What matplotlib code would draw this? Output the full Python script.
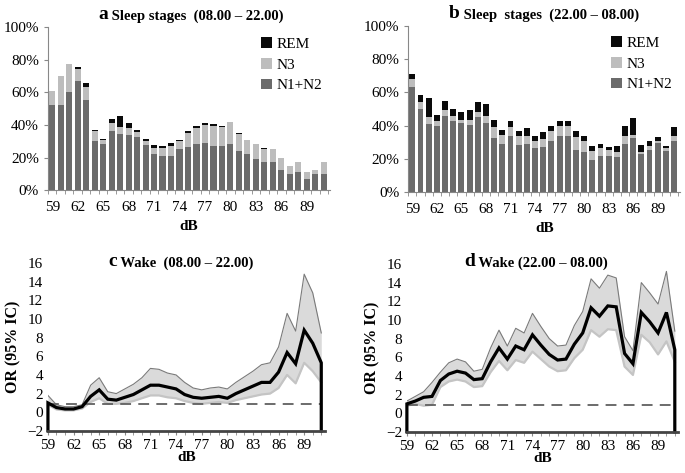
import numpy as np
import matplotlib
matplotlib.use('Agg')
import matplotlib.pyplot as plt
from matplotlib.ticker import FuncFormatter, MultipleLocator

plt.rcParams['font.family'] = ['Liberation Serif', 'DejaVu Serif']

# dB categories
db = np.arange(59, 92)

# a: sleep stages 08.00 - 22.00 (% of epochs)
a_n12 = [52, 52, 60, 67, 55, 30, 28, 36, 34.5, 34, 32.5, 27.5, 22, 21, 21, 25, 26.5,
         28, 29, 27, 27, 28, 24, 22, 19, 17, 17, 12.5, 10, 11, 7, 10, 10]
a_n3 = [9, 18, 17, 7, 8, 6, 3, 5, 4, 4, 3, 2.5, 4, 5, 6, 5, 8.5,
        10, 11, 12.5, 12, 13.5, 10.5, 9, 9, 8.5, 8, 7, 4.5, 6, 4, 2.5, 7]
a_rem = [0, 0, 0.5, 1.5, 2.5, 1, 0.5, 2.5, 7, 3, 1.5, 1.5, 1.5, 1, 2, 0.5, 1,
         1.5, 1, 1, 0.5, 0, 0.3, 0, 0.3, 0.3, 0.3, 0.3, 0, 0, 0, 0, 0.3]

# b: sleep stages 22.00 - 08.00
b_n12 = [63, 50, 41, 39.5, 45.5, 42.5, 41.5, 40.5, 45, 41.5, 32.5, 29, 33.5, 28.5, 29, 26.5, 27,
         30.5, 34, 34, 25.5, 24, 19.5, 22, 22, 21, 29, 32.5, 23, 25.5, 29.5, 25, 31]
b_n3 = [5, 4, 4, 3, 4, 3.5, 2, 3, 3.5, 4, 6.5, 5.5, 5.5, 5, 5, 4, 5,
        6.5, 5.5, 6, 7.5, 6.5, 5, 4.5, 3.5, 3, 5, 2, 1, 2, 1, 1.5, 3]
b_rem = [3, 4.5, 11.5, 4, 5.5, 4, 4.5, 6, 6, 7.5, 4.5, 3, 4, 3.5, 4.5, 3, 4,
         3, 3.5, 2.5, 3.5, 3, 3, 2.5, 1.5, 3.5, 6, 10, 4.5, 3, 2.5, 1.5, 5]

# c: wake OR 08.00 - 22.00
c_or = [1.0, 0.5, 0.35, 0.35, 0.6, 1.7, 2.4, 1.4, 1.3, 1.6, 1.9, 2.4, 2.9, 2.9, 2.7, 2.5, 1.9,
        1.6, 1.5, 1.6, 1.7, 1.5, 2.0, 2.4, 2.8, 3.2, 3.2, 4.3, 6.4, 5.2, 8.8, 7.4, 5.3]
c_hi = [1.8, 0.8, 0.6, 0.6, 0.8, 2.9, 3.7, 2.2, 2.0, 2.5, 3.0, 3.7, 4.7, 4.6, 4.2, 4.0, 3.2,
        2.6, 2.4, 2.6, 2.7, 2.5, 3.2, 3.8, 4.4, 5.1, 5.3, 7.0, 10.6, 8.7, 14.8, 12.8, 8.5]
c_lo = [0.8, 0.3, 0.2, 0.2, 0.4, 1.1, 1.5, 0.9, 0.9, 1.0, 1.2, 1.5, 1.8, 1.8, 1.6, 1.5, 1.2,
        1.0, 0.9, 1.0, 1.1, 1.0, 1.3, 1.5, 1.7, 1.9, 2.0, 2.6, 4.0, 3.1, 5.3, 4.4, 3.2]

# d: wake OR 22.00 - 08.00
d_or = [1.0, 1.3, 1.7, 1.8, 3.5, 4.2, 4.5, 4.3, 3.6, 3.7, 5.5, 7.0, 5.8, 7.2, 6.8, 8.4, 7.3,
        6.3, 5.7, 5.8, 7.4, 8.6, 11.3, 10.4, 11.5, 11.4, 6.4, 5.3, 10.8, 9.8, 8.6, 10.8, 6.8]
d_hi = [1.3, 1.8, 2.3, 3.3, 4.4, 5.4, 5.8, 5.5, 4.5, 4.7, 7.0, 8.9, 7.2, 9.1, 8.6, 10.7, 9.3,
        8.0, 7.2, 7.3, 9.4, 10.9, 14.4, 13.4, 14.8, 14.5, 8.2, 6.7, 14.0, 12.9, 11.7, 15.2, 8.8]
d_lo = [0.8, 1.0, 0.8, 0.9, 2.8, 3.4, 3.6, 3.4, 2.8, 2.9, 4.4, 5.6, 4.6, 5.7, 5.4, 6.6, 5.8,
        5.0, 4.5, 4.6, 5.9, 6.8, 8.9, 8.2, 9.0, 8.9, 5.0, 4.1, 8.4, 7.6, 6.3, 7.7, 5.5]

ref_line = 0.85
tick_db = np.arange(59, 92, 3)

fig = plt.figure(figsize=(6.85, 4.73), dpi=100)
ax_a = fig.add_axes([0.070, 0.598, 0.412, 0.345])
ax_b = fig.add_axes([0.596, 0.594, 0.397, 0.351])
ax_c = fig.add_axes([0.070, 0.089, 0.404, 0.355])
ax_d = fig.add_axes([0.594, 0.087, 0.396, 0.355])


def title(ax, letter, rest, x0, y):
    t = ax.text(x0, y, letter, transform=ax.transAxes, fontsize=14,
                fontweight='bold', va='baseline', ha='left')
    ax.annotate(rest, xy=(1, 0), xycoords=t, fontsize=10.5, fontweight='bold',
                va='bottom', ha='left')


def bars(ax, n12, n3, rem, letter, rest, x0):
    pos = np.arange(len(db))
    n12 = np.array(n12); n3 = np.array(n3); rem = np.array(rem)
    ax.bar(pos, n12, 0.72, color='#6b6b6b', label='N1+N2')
    ax.bar(pos, n3, 0.72, bottom=n12, color='#bdbdbd', label='N3')
    ax.bar(pos, rem, 0.72, bottom=n12 + n3, color='#0a0a0a', label='REM')
    ax.set_ylim(0, 100)
    ax.set_xlim(-0.45, 32.75)
    ax.set_yticks(np.arange(0, 101, 20))
    ax.yaxis.set_major_formatter(FuncFormatter(lambda v, p: '%d%%' % v))
    ax.set_xticks(pos[::3])
    ax.set_xticklabels([str(v) for v in tick_db])
    ax.set_xticks(np.arange(-0.5, 33, 1), minor=True)
    ax.tick_params(axis='x', which='major', length=0, labelsize=11, pad=8)
    ax.tick_params(axis='x', which='minor', length=3, color='#888888')
    ax.tick_params(axis='y', length=3, color='#888888', labelsize=11)
    for s in ['top', 'right']:
        ax.spines[s].set_visible(False)
    for s in ['left', 'bottom']:
        ax.spines[s].set_color('#888888')
    ax.set_xlabel('dB', fontsize=11, fontweight='bold', labelpad=4)
    h, l = ax.get_legend_handles_labels()
    ax.legend(h[::-1], l[::-1], loc='upper right', frameon=False, fontsize=11,
              handlelength=0.7, handleheight=0.7, handletextpad=0.3,
              labelspacing=0.45, bbox_to_anchor=(1.02, 1.02))
    title(ax, letter, rest, x0, 1.05)


def wake(ax, orv, hi, lo, letter, rest, x0):
    ax.fill_between(db, lo, hi, color='#dadada', lw=0)
    ax.plot(db, hi, color='#7a7a7a', lw=0.8)
    ax.plot(db, lo, color='#c4c4c4', lw=1.6)
    ax.plot([59, 91], [ref_line, ref_line], color='#606060', lw=1.3, dashes=(6, 4))
    xs = np.concatenate([[db[0]], db, [db[-1]]])
    ys = np.concatenate([[-2], orv, [-2]])
    ax.plot(xs, ys, color='black', lw=2.3, solid_joinstyle='miter', clip_on=False)
    ax.set_ylim(-2, 16)
    ax.set_xlim(59, 91.4)
    ax.set_yticks(np.arange(-2, 17, 2))
    ax.set_xticks(tick_db)
    ax.xaxis.set_minor_locator(MultipleLocator(1))
    ax.tick_params(axis='x', which='major', length=3, color='#888888', labelsize=11, pad=3)
    ax.tick_params(axis='x', which='minor', length=3, color='#888888')
    ax.tick_params(axis='y', length=0, labelsize=11)
    for s in ['top', 'right', 'left']:
        ax.spines[s].set_visible(False)
    ax.spines['bottom'].set_color('#444444')
    ax.spines['bottom'].set_linewidth(2)
    ax.set_xlabel('dB', fontsize=11, fontweight='bold', labelpad=-1)
    ax.set_ylabel('OR (95% IC)', fontsize=11.5, fontweight='bold', labelpad=4)
    title(ax, letter, rest, x0, 0.985)


bars(ax_a, a_n12, a_n3, a_rem, 'a', ' Sleep stages  (08.00 – 22.00)', 0.18)
bars(ax_b, b_n12, b_n3, b_rem, 'b', ' Sleep  stages  (22.00 – 08.00)', 0.15)
wake(ax_c, c_or, c_hi, c_lo, 'c', ' Wake  (08.00 – 22.00)', 0.22)
wake(ax_d, d_or, d_hi, d_lo, 'd', ' Wake (22.00 – 08.00)', 0.21)

fig.savefig('out.png', dpi=100)
